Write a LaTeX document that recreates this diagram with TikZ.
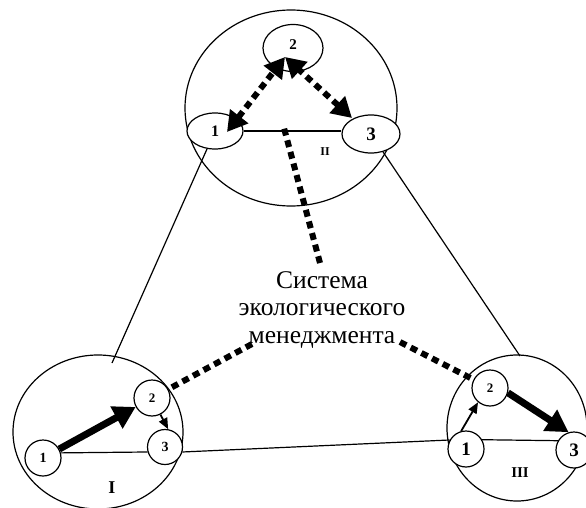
\documentclass[tikz,border=0pt]{standalone}
\usepackage{fontspec}
\setmainfont{Liberation Serif}
\usetikzlibrary{arrows.meta,shapes.geometric}
\begin{document}
\begin{tikzpicture}[x=1pt,y=-1pt,
  big/.style={ellipse,draw,line width=1.2pt,inner sep=0pt},
  sm/.style={circle,draw,fill=white,line width=1.2pt,minimum size=36pt,inner sep=0pt},
  ell/.style={ellipse,draw,fill=white,line width=1.2pt,inner sep=0pt},
  thinline/.style={line width=1.2pt},
  dotline/.style={line width=6pt,dash pattern=on 7pt off 5pt},
  dotarrow/.style={dotline,{Triangle[length=20pt,width=22pt]}-{Triangle[length=20pt,width=22pt]}},
  fatarrow/.style={line width=7pt,-{Triangle[length=22pt,width=24pt]}},
  smallarrow/.style={line width=1.8pt,-{Triangle[length=11pt,width=9pt]}},
  num/.style={font=\bfseries\fontsize{#1}{#1}\selectfont},
  roman/.style={inner sep=0pt,font=\bfseries\fontsize{#1}{#1}\selectfont}
]
\useasboundingbox (0,0) rectangle (586,508);
% big circles
\node[big, minimum width=212pt, minimum height=196pt] (CII) at (291,108) {};
\node[big, minimum width=170pt, minimum height=154pt] (CI) at (98,432) {};
\node[big, minimum width=140pt, minimum height=146pt] (CIII) at (517,428) {};
% free ends
\coordinate (Itop) at (112,363);
\coordinate (IIItop) at (520,356);
\coordinate (a1) at (227,132);
\coordinate (a2) at (285,57);
\coordinate (a3) at (352,118);
\coordinate (sysTop) at (320,263);
\coordinate (IIin) at (284,128);
\coordinate (sysL) at (252,344);
\coordinate (sysR) at (400,342);
% small nodes
\node[ell, minimum width=56pt, minimum height=36pt, num=16] (II1) at (215,131) {1};
\node[ell, minimum width=60pt, minimum height=47pt, num=15] (II2) at (293,48) {\raisebox{6pt}{2}};
\node[ell, minimum width=58pt, minimum height=38pt, num=19] (II3) at (371,134) {3};
\node[sm, num=14] (I1) at (43,458) {1};
\node[sm, num=13] (I2) at (152,398) {2};
\node[sm, minimum size=35pt, num=14] (I3) at (165,447) {3};
\node[sm, num=19] (III1) at (466,449) {1};
\node[sm, num=13] (III2) at (490,388) {2};
\node[sm, num=19] (III3) at (574,450) {3};
% thin connecting lines
\draw[thinline] (II1) -- (Itop);
\draw[thinline] (II3) -- (IIItop);
\draw[thinline] (I3.-16) -- (III1.151);
\draw[thinline] (I1.16) -- (I3.196);
\draw[thinline] (III1.30) -- (III3.150);
\draw[thinline] (II1.east) -- (II1.east -| II3.west);
% arrows
\draw[fatarrow] (I1) -- (I2);
\draw[smallarrow] (I2.-63) -- (I3.80);
\draw[smallarrow] (III1.105) -- (III2.-130);
\draw[fatarrow] (III2.-15) -- (III3.107);
\draw[dotarrow] (a1) -- (a2);
\draw[dotarrow] (a3) -- (a2);
% labels
\node[roman=18] (LI) at (112,488) {I};
\node[roman=12] (LII) at (325,152) {II};
\node[roman=15] (LIII) at (520,473) {III};
% system text
\node[align=center, inner sep=0pt, anchor=base, font=\fontsize{25.5}{27.5}\selectfont] (sys) at (322,343) {Система\\экологического\\менеджмента};
\draw[dotline] (sysTop) -- (IIin);
\draw[dotline] (sysL) -- (I2);
\draw[dotline] (sysR) -- (III2);
\end{tikzpicture}
\end{document}
